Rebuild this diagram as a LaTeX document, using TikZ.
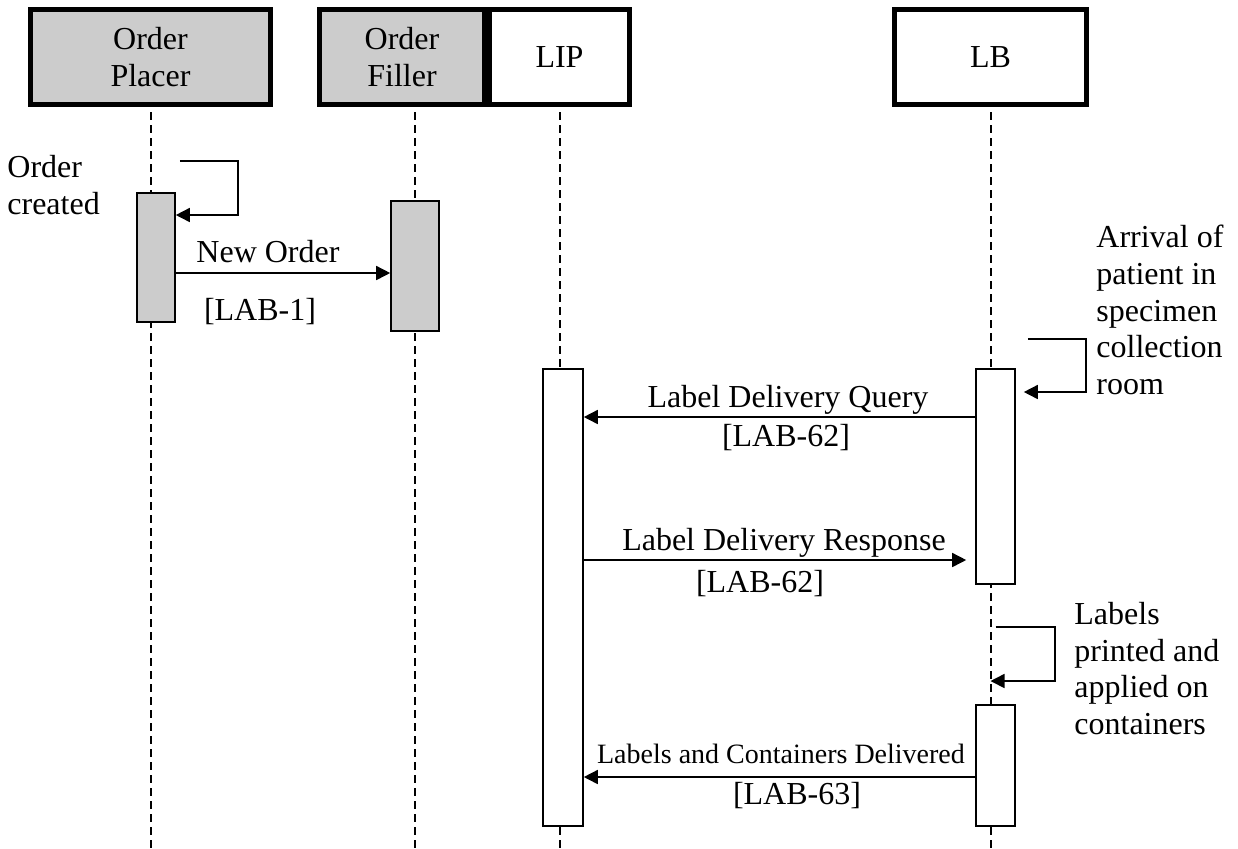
\documentclass[tikz,border=0pt]{standalone}
\usepackage{fontspec}
\setmainfont{Liberation Serif}
\usepackage{xcolor}
\usetikzlibrary{arrows.meta}
\definecolor{actorgray}{RGB}{204,204,204}
\tikzstyle{actor}=[draw, line width=2.5pt, align=center, inner sep=0pt, minimum height=47.5pt]
\tikzstyle{activation}=[draw, line width=0.8pt, inner sep=0pt, fill=white]
\tikzset{lifeline/.style={line width=1pt, dash pattern=on 4pt off 2.5pt, dash phase=4pt}}
\tikzset{message/.style={-{Triangle[length=7pt,width=7pt]}, line width=0.8pt}}
\tikzset{note/.style={align=left, inner sep=0pt, anchor=north west}}

\begin{document}
\begin{tikzpicture}[x=0.5pt, y=-0.5pt, font=\fontsize{16}{18.3}\selectfont]
  \useasboundingbox (0,0) rectangle (1238,848);
  \coordinate (bottom) at (0,848);
  \coordinate (ofTop) at (415,107);

  %% Actors
  \draw (150.5,57) node[actor,fill=actorgray,minimum width=120pt] (OP) {Order\\Placer};
  \draw (402,57) node[actor,fill=actorgray,minimum width=82.5pt] (OF) {Order\\Filler};
  \draw (559.5,57) node[actor,minimum width=70pt] (LIP) {LIP};
  \draw (990.5,57) node[actor,minimum width=96pt] (LB) {LB};

  %% Lifelines
  \draw[lifeline] (OP.south) -- (OP.south |- bottom);
  \draw[lifeline] (ofTop) -- (ofTop |- bottom);
  \draw[lifeline] (LIP.south) -- (LIP.south |- bottom);
  \draw[lifeline] (LB.south) -- (LB.south |- bottom);

  %% Activations
  \draw (156,257.5) node[activation,fill=actorgray,minimum width=19pt,minimum height=64.5pt] (opAct) {};
  \draw (415,266) node[activation,fill=actorgray,minimum width=24pt,minimum height=65pt] (ofAct) {};
  \draw (563,597.5) node[activation,minimum width=20pt,minimum height=228.5pt] (lipAct) {};
  \draw (995.5,476.5) node[activation,minimum width=19.5pt,minimum height=107.5pt] (lbAct1) {};
  \draw (995.5,765.5) node[activation,minimum width=19.5pt,minimum height=60.5pt] (lbAct2) {};

  %% Self messages
  \coordinate (self1) at (238,161);
  \coordinate (self1b) at (238,215);
  \draw[message] ([xshift=2pt]opAct.east |- self1) -| (self1b) -- (opAct.east |- self1b);
  \coordinate (self2) at (1086,339);
  \coordinate (self2b) at (1086,392);
  \draw[message] ([xshift=6pt]lbAct1.east |- self2) -| (self2b) -- ([xshift=4pt]lbAct1.east |- self2b);
  \coordinate (self3) at (1055,627);
  \coordinate (self3b) at (1055,681);
  \draw[message] (lbAct2.center |- self3) -| (self3b) -- (LB.south |- self3b);

  \draw (7,155) node[note] (created) {Order\\created};
  \draw (1096,225) node[note] (arrival) {Arrival of\\patient in\\specimen\\collection\\room};
  \draw (1074,602) node[note] (printed) {Labels\\printed and\\applied on\\containers};

  %% Messages
  \coordinate (newOrder) at (0,273);
  \coordinate (query) at (0,417);
  \coordinate (response) at (0,560);
  \coordinate (delivered) at (0,777);
  \draw[message] (opAct.east |- newOrder) -- (ofAct.west |- newOrder);
  \draw[message] (lbAct1.west |- query) -- (lipAct.east |- query);
  \draw[message] (lipAct.east |- response) -- ([xshift=-4.5pt]lbAct1.west |- response);
  \draw[message] (lbAct2.west |- delivered) -- (lipAct.east |- delivered);

  \draw (268,262) node[anchor=base] (newOrderText) {New Order};
  \draw (260,320) node[anchor=base] (lab1) {[LAB-1]};
  \draw (788,407) node[anchor=base] (queryText) {Label Delivery Query};
  \draw (786,446) node[anchor=base] (lab62a) {[LAB-62]};
  \draw (784,550) node[anchor=base] (responseText) {Label Delivery Response};
  \draw (760,592) node[anchor=base] (lab62b) {[LAB-62]};
  \draw (781,763) node[anchor=base,font=\fontsize{14}{16}\selectfont] (deliveredText) {Labels and Containers Delivered};
  \draw (797,804) node[anchor=base] (lab63) {[LAB-63]};
\end{tikzpicture}
\end{document}
